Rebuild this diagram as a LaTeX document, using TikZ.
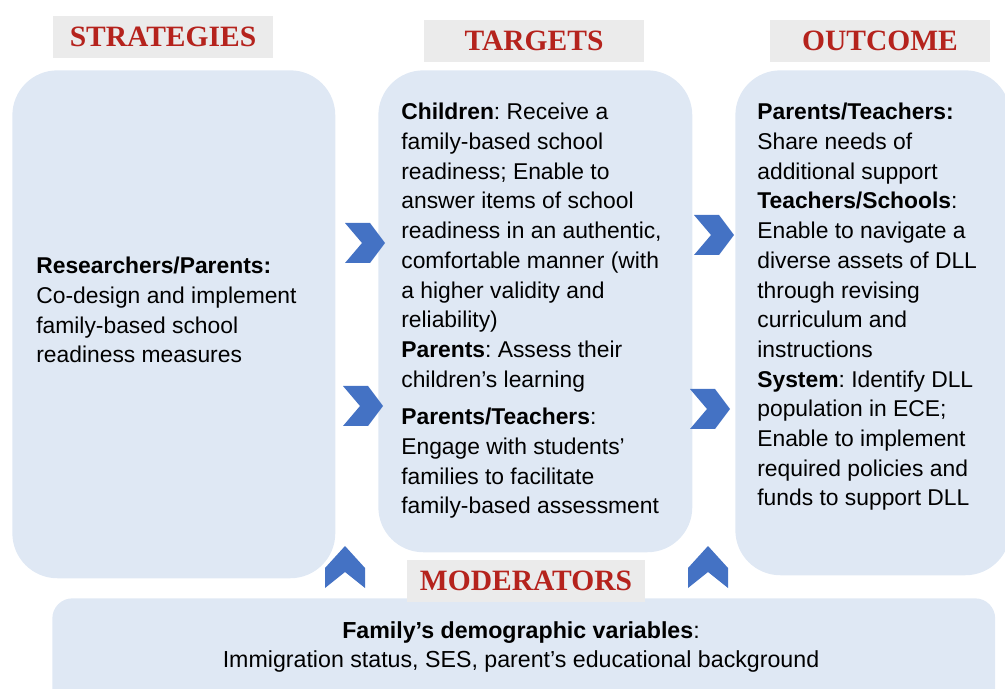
\documentclass[tikz,border=0pt]{standalone}
\usepackage{fontspec}
\setmainfont{Liberation Sans}
\newfontfamily\headfont{Liberation Serif}
\frenchspacing

\begin{document}
\begin{tikzpicture}[x=0.02cm, y=-0.02cm]
    \definecolor{C0}{HTML}{4472C4}
    \definecolor{C1}{HTML}{DFE8F4}
    \definecolor{C2}{HTML}{EBEBEB}
    \definecolor{C3}{HTML}{B5231D}

    \tikzset{
        bigbox/.style={fill=C1, rounded corners=0.9cm, anchor=north west, inner sep=0},
        head/.style={fill=C2, font=\headfont\fontsize{16.8}{18}\selectfont\bfseries, text=C3, minimum height=0.86cm, inner sep=0},
        body/.style={anchor=north west, align=left, inner sep=0, font=\fontsize{13}{16.9}\selectfont},
        chevr/.pic={\path[fill=C0] (0,0) -- (25,0) -- (40,20) -- (25,40) -- (0,40) -- (17,20) -- cycle;},
        chevu/.pic={\path[fill=C0] (0,22) -- (20,0) -- (40,22) -- (40,42) -- (20,26) -- (0,42) -- cycle;}
    }

    \useasboundingbox (0,0) rectangle (1005,689);

    % the three columns
    \node[bigbox, minimum width=6.46cm, minimum height=10.16cm] (strat) at (12,70) {};
    \node[bigbox, minimum width=6.28cm, minimum height=9.64cm] (targ) at (378,70) {};
    \node[bigbox, minimum width=5.5cm, minimum height=10.1cm] (outc) at (735,70) {};
    \node[bigbox, rounded corners=0.4cm, minimum width=18.86cm, minimum height=2.2cm] (mods) at (52,598) {};

    \node[head, minimum width=4.42cm] (hstrat) at (163,37) {STRATEGIES};
    \node[head, minimum width=4.42cm] (htarg) at (534,41) {TARGETS};
    \node[head, minimum width=4.4cm] (houtc) at (880,41) {OUTCOME};
    \node[head, minimum width=4.78cm] (hmods) at (526,581) {MODERATORS};

    \node[body] (tstrat) at (36,257) {\textbf{Researchers/Parents:}\\
        Co-design and implement\\ family-based school\\ readiness measures};

    \node[body] (ttarg) at (401,103) {\textbf{Children}: Receive a\\
        family-based school\\ readiness; Enable to\\ answer items of school\\
        readiness in an authentic,\\ comfortable manner (with\\
        a higher validity and\\ reliability)\\
        \textbf{Parents}: Assess their\\ children’s learning\\[0.16cm]
        \textbf{Parents/Teachers}:\\ Engage with students’\\
        families to facilitate\\ family-based assessment};

    \node[body] (toutc) at (757,103) {\textbf{Parents/Teachers:}\\
        Share needs of\\ additional support\\
        \textbf{Teachers/Schools}:\\ Enable to navigate a\\
        diverse assets of DLL\\ through revising\\ curriculum and\\ instructions\\
        \textbf{System}: Identify DLL\\ population in ECE;\\
        Enable to implement\\ required policies and\\ funds to support DLL};

    \node[body, anchor=center, align=center, font=\fontsize{13.2}{16.2}\selectfont] (tmods) at (521,647)
        {\textbf{Family’s demographic variables}:\\
        Immigration status, SES, parent’s educational background};

    % chevrons
    \pic at (345,223) {chevr};
    \pic at (343,386) {chevr};
    \pic at (694,215) {chevr};
    \pic at (690,389) {chevr};
    \pic at (325,546) {chevu};
    \pic at (688,546) {chevu};

\end{tikzpicture}
\end{document}
